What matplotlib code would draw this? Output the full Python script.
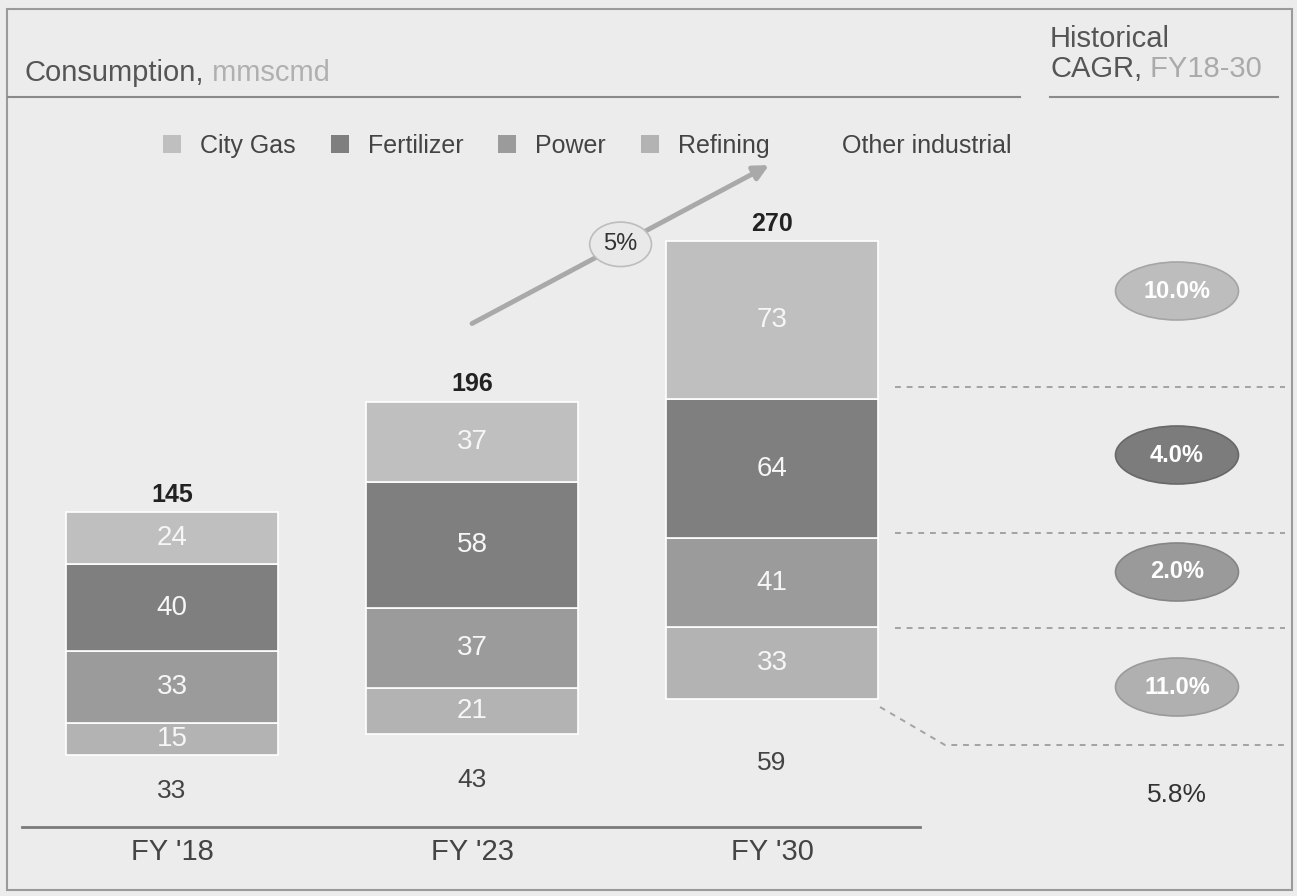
import matplotlib
matplotlib.use("Agg")
import matplotlib.pyplot as plt
from matplotlib.patches import Ellipse, Rectangle

plt.rcParams['font.family'] = ['Liberation Sans', 'DejaVu Sans']

# data (mmscmd)
years = ["FY '18", "FY '23", "FY '30"]
other_industrial = [33, 43, 59]
refining = [15, 21, 33]
power = [33, 37, 41]
fertilizer = [40, 58, 64]
city_gas = [24, 37, 73]
totals = [145, 196, 270]
growth_label = "5%"
cagr_labels = ["10.0%", "4.0%", "2.0%", "11.0%"]
other_cagr = "5.8%"

BG = "#ececec"
DARK = "#444444"
W, H = 1297, 896

fig = plt.figure(figsize=(W / 100, H / 100), dpi=100, facecolor=BG)

# decoration layer in pixel coordinates
deco = fig.add_axes([0, 0, 1, 1], zorder=0)
deco.set_xlim(0, W)
deco.set_ylim(H, 0)
deco.axis("off")

ax = fig.add_axes([22 / W, (H - 827) / H, 898 / W, 727 / H], zorder=1)
ax.set_facecolor("none")

series = [
    ("Other industrial", other_industrial, BG, DARK),
    ("Refining", refining, "#b3b3b3", "#f6f6f6"),
    ("Power", power, "#9b9b9b", "#f6f6f6"),
    ("Fertilizer", fertilizer, "#7f7f7f", "#f6f6f6"),
    ("City Gas", city_gas, "#bfbfbf", "#f6f6f6"),
]

x = list(range(len(years)))
bottom = [0] * len(years)
containers = {}
for name, vals, color, txt_color in series:
    edge = "none" if name == "Other industrial" else "white"
    bars = ax.bar(x, vals, bottom=bottom, width=0.707, color=color,
                  edgecolor=edge, linewidth=1.2, label=name)
    containers[name] = bars
    for xi, b, v in zip(x, bottom, vals):
        ax.text(xi, b + v / 2, str(v), ha="center", va="center",
                fontsize=20 if name != "Other industrial" else 19,
                color=txt_color)
    bottom = [b + v for b, v in zip(bottom, vals)]

for xi, t in zip(x, totals):
    ax.annotate(str(t), (xi, t), xytext=(0, 4), textcoords="offset points",
                ha="center", va="bottom", fontsize=18, fontweight="bold",
                color="#222222")

# growth arrow FY23 -> FY30
start = (x[1], totals[1] + 36)
end = (x[2] - 0.01, totals[2] + 35)
ax.annotate("", xy=end, xytext=start,
            arrowprops=dict(arrowstyle="-|>", color="#a9a9a9", lw=3.5,
                            mutation_scale=22, shrinkA=0, shrinkB=0))
ax.text((start[0] + end[0]) / 2, (start[1] + end[1]) / 2, growth_label,
        ha="center", va="center", fontsize=17, color="#333333",
        bbox=dict(boxstyle="ellipse,pad=0.2", fc="#e9e9e9", ec="#bdbdbd", lw=1.2))

ax.set_xlim(-0.5, 2.493)
ax.set_ylim(0, 335)
ax.set_xticks(x, years, fontsize=21, color=DARK)
ax.set_yticks([])
ax.tick_params(axis="x", length=0, pad=8)
for side in ["top", "right", "left"]:
    ax.spines[side].set_visible(False)
ax.spines["bottom"].set_color("#7a7a7a")
ax.spines["bottom"].set_linewidth(2)

order = ["City Gas", "Fertilizer", "Power", "Refining", "Other industrial"]
leg = ax.legend(handles=[containers[n] for n in order], labels=order,
                loc="center left", bbox_to_anchor=(163 / W, 1 - 146 / H),
                bbox_transform=fig.transFigure, ncol=5, frameon=False,
                fontsize=18, handlelength=0.72, handleheight=0.72,
                handletextpad=0.76, columnspacing=1.4, borderpad=0, borderaxespad=0)
for t in leg.get_texts():
    t.set_color(DARK)
for h in leg.legend_handles:
    h.set_edgecolor("none")

# headers
t1 = deco.text(24, 81, "Consumption,", fontsize=21, color="#555555", va="baseline")
deco.annotate(" mmscmd", xy=(1, 0), xycoords=t1, va="bottom", ha="left",
              fontsize=21, color="#b0b0b0")
deco.text(1050, 47, "Historical", fontsize=21, color="#555555", va="baseline")
t2 = deco.text(1050, 77, "CAGR,", fontsize=21, color="#555555", va="baseline")
deco.annotate(" FY18-30", xy=(1, 0), xycoords=t2, va="bottom", ha="left",
              fontsize=21, color="#aaaaaa")
deco.plot([8, 1020], [97, 97], color="#8a8a8a", lw=1.5)
deco.plot([1050, 1278], [97, 97], color="#8a8a8a", lw=1.5)

# frame
deco.add_patch(Rectangle((7, 9), 1285, 881, fill=False, ec="#9a9a9a", lw=1.5))

# CAGR column
dash = dict(color="#a3a3a3", lw=1.4, ls=(0, (3, 3)))
for yy in [387, 533, 628]:
    deco.plot([895, 1285], [yy, yy], **dash)
deco.plot([880, 945, 1285], [707, 745, 745], **dash)

ell_colors = ["#bdbdbd", "#7c7c7c", "#9a9a9a", "#b0b0b0"]
ell_edges = ["#a5a5a5", "#686868", "#858585", "#9a9a9a"]
ell_y = [291, 455, 572, 687]
for lab, c, ec, yy in zip(cagr_labels, ell_colors, ell_edges, ell_y):
    deco.add_patch(Ellipse((1177, yy), 123, 58, fc=c, ec=ec, lw=1.2))
    deco.text(1177, yy, lab, ha="center", va="center", fontsize=17,
              fontweight="bold", color="white")
deco.text(1177, 795, other_cagr, ha="center", va="center", fontsize=19,
          color="#333333")

fig.savefig("out.png", dpi=100, facecolor=BG)
